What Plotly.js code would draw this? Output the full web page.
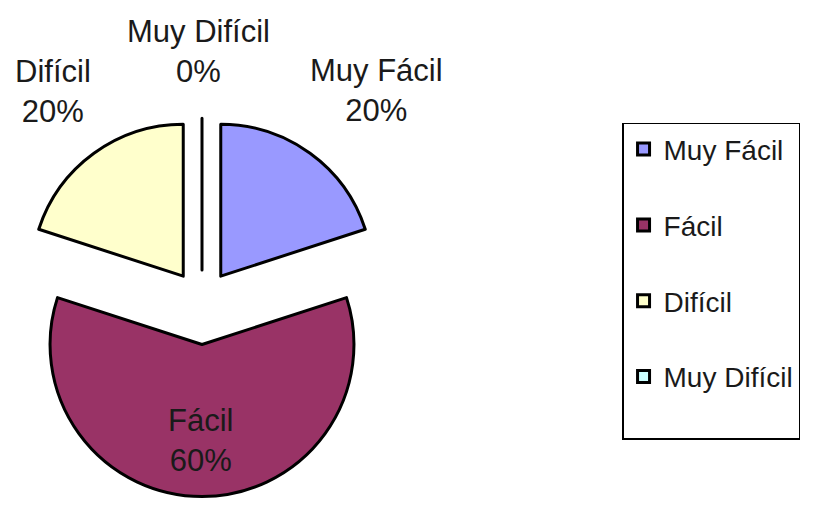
<!DOCTYPE html>
<html>
<head>
<meta charset="utf-8">
<script src="https://cdn.plot.ly/plotly-3.0.1.min.js"></script>
<style>html,body{margin:0;padding:0;background:#fff}#chart{width:825px;height:512px}</style>
</head>
<body>
<div id="chart"></div>
<script>
const categories = ['Muy Fácil', 'Fácil', 'Difícil', 'Muy Difícil'];
const values = [20, 60, 20, 0];
const colors = ['#9999FF', '#993366', '#FFFFCC', '#CCFFFF'];
const pulls = [0.21, 0.28, 0.21, 0.21];

const total = values.reduce((a, b) => a + b, 0);
const percentLabels = values.map(v => Math.round(v / total * 100) + '%');

// label block centres in pixels (layout only)
const labelCentres = [[376, 90], [200, 440], [53, 91], [198, 51]];

const FONT = 'Liberation Sans, Arial, sans-serif';

const trace = {
  type: 'pie',
  labels: categories.map(c => c + '<br> '),
  values: values,
  sort: false,
  direction: 'clockwise',
  rotation: 0,
  pull: pulls,
  marker: { colors: colors, line: { color: '#000', width: 3 } },
  textinfo: 'none',
  hoverinfo: 'none',
  domain: { x: [0.0091, 0.4806], y: [0.0303, 0.790] }
};

const annotations = categories.map((c, i) => ({
  text: c + '<br>' + percentLabels[i],
  xref: 'paper', yref: 'paper',
  x: labelCentres[i][0] / 825, y: 1 - labelCentres[i][1] / 512,
  xanchor: 'center', yanchor: 'middle',
  showarrow: false,
  font: { family: FONT, size: 31, color: '#1a1a1a' }
}));

const layout = {
  width: 825, height: 512,
  margin: { l: 0, r: 0, t: 0, b: 0 },
  paper_bgcolor: '#fff',
  showlegend: true,
  annotations: annotations,
  legend: {
    x: 0.754, y: 0.76, xanchor: 'left', yanchor: 'top',
    bordercolor: '#000', borderwidth: 1.5, bgcolor: '#fff',
    valign: 'top',
    font: { family: FONT, size: 28, color: '#1a1a1a' }
  }
};

Plotly.newPlot('chart', [trace], layout, { displayModeBar: false, staticPlot: true });
</script>
</body>
</html>
